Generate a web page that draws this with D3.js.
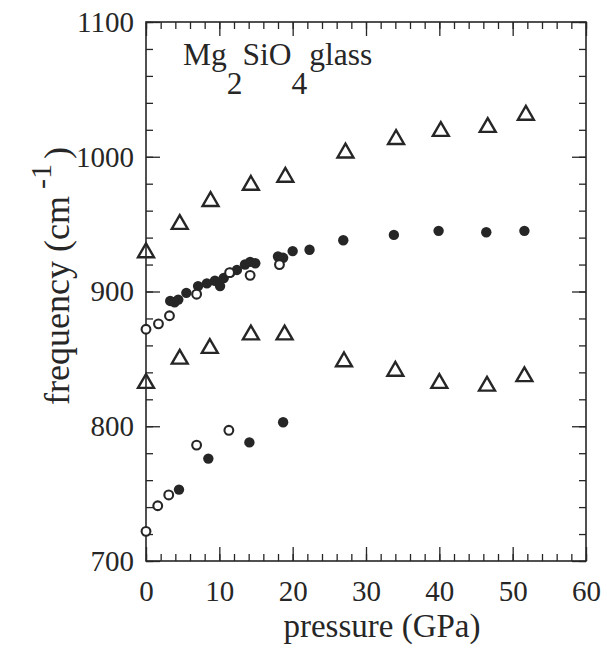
<!DOCTYPE html>
<html><head><meta charset="utf-8">
<style>
svg text, svg tspan, svg g { font-family: "Liberation Serif", "Times New Roman", Tinos, serif !important; }
</style>
<script src="https://cdn.jsdelivr.net/npm/d3@7"></script>
</head><body style="margin:0">
<svg id="c" width="607" height="648" font-family="Liberation Serif"></svg>
<script>
const xTicks=[0,10,20,30,40,50,60];
const yTicks=[700,800,900,1000,1100];
const upperTriP=[0,4.6,8.8,14.3,19,27.2,34.1,40.2,46.6,51.8];
const upperTriF=[930,951,968,980,986,1004,1014,1020,1023,1032];
const lowerTriP=[0,4.6,8.7,14.3,18.9,27,34,40,46.5,51.6];
const lowerTriF=[833,851,859,869,869,849,842,833,831,838];
const midFilledP=[3.3,3.9,4.4,5.5,7.1,8.3,9.4,10.1,10.6,11.5,12.4,13.5,14.2,14.9,18.0,18.7,20.0,22.3,26.9,33.8,39.9,46.4,51.6];
const midFilledF=[893,892,894,899,904,906,908,904,910,914,916,920,922,921,926,925,930,931,938,942,945,944,945];
const midOpenP=[0,1.7,3.2,6.9,11.4,14.2,18.2];
const midOpenF=[872,876,882,898,914,912,920];
const lowOpenP=[0,1.6,3.1,6.9,11.3];
const lowOpenF=[722,741,749,786,797];
const lowFilledP=[4.5,8.5,14.1,18.7];
const lowFilledF=[753,776,788,803];

const ink="#262626";
const FONT="Liberation Serif";
const svg=d3.select("#c");
const L=146,R=586,T=22,B=561;
const x=d3.scaleLinear().domain([0,60]).range([L,R]);
const y=d3.scaleLinear().domain([700,1100]).range([B,T]);
const zip=(a,b)=>a.map((v,i)=>[v,b[i]]);

svg.append("rect").attr("x",L).attr("y",T).attr("width",R-L).attr("height",B-T)
  .attr("fill","none").attr("stroke",ink).attr("stroke-width",1.6);

const xMinor=d3.range(0,61,2), yMinor=d3.range(700,1101,20);
function tickStyle(g){g.select(".domain").remove();g.selectAll("line").attr("stroke",ink).attr("stroke-width",1.3);}
function labStyle(g){g.selectAll("text").attr("font-size",29).attr("fill",ink);}
svg.append("g").attr("transform",`translate(0,${B})`).call(d3.axisBottom(x).tickValues(xMinor).tickSize(-7).tickFormat("")).call(tickStyle);
svg.append("g").attr("transform",`translate(0,${B})`).call(d3.axisBottom(x).tickValues(xTicks).tickSize(-14).tickPadding(19).tickFormat(d3.format("d")))
  .call(tickStyle).call(labStyle);
svg.append("g").attr("transform",`translate(0,${T})`).call(d3.axisTop(x).tickValues(xMinor).tickSize(-7).tickFormat("")).call(tickStyle);
svg.append("g").attr("transform",`translate(0,${T})`).call(d3.axisTop(x).tickValues(xTicks).tickSize(-14).tickFormat("")).call(tickStyle);
svg.append("g").attr("transform",`translate(${L},0)`).call(d3.axisLeft(y).tickValues(yMinor).tickSize(-7).tickFormat("")).call(tickStyle);
svg.append("g").attr("transform",`translate(${L},0)`).call(d3.axisLeft(y).tickValues(yTicks).tickSize(-14).tickPadding(12).tickFormat(d3.format("d")))
  .call(tickStyle).call(labStyle);
svg.append("g").attr("transform",`translate(${R},0)`).call(d3.axisRight(y).tickValues(yMinor).tickSize(-7).tickFormat("")).call(tickStyle);
svg.append("g").attr("transform",`translate(${R},0)`).call(d3.axisRight(y).tickValues(yTicks).tickSize(-14).tickFormat("")).call(tickStyle);

const tri=d3.symbol().type(d3.symbolTriangle).size(110);
function triangles(data){
  svg.append("g").selectAll("path").data(data).join("path")
    .attr("transform",d=>`translate(${x(d[0])},${y(d[1])+1.5})`).attr("d",tri)
    .attr("fill","none").attr("stroke",ink).attr("stroke-width",2.4).attr("stroke-linejoin","miter");
}
function filled(data){
  svg.append("g").selectAll("circle").data(data).join("circle")
    .attr("cx",d=>x(d[0])).attr("cy",d=>y(d[1])).attr("r",5.2).attr("fill",ink);
}
function open(data){
  svg.append("g").selectAll("circle").data(data).join("circle")
    .attr("cx",d=>x(d[0])).attr("cy",d=>y(d[1])).attr("r",4.4).attr("fill","#fff").attr("stroke",ink).attr("stroke-width",2.1);
}
triangles(zip(upperTriP,upperTriF));
triangles(zip(lowerTriP,lowerTriF));
filled(zip(midFilledP,midFilledF));
filled(zip(lowFilledP,lowFilledF));
open(zip(midOpenP,midOpenF));
open(zip(lowOpenP,lowOpenF));

svg.append("text").attr("x",382).attr("y",637).attr("text-anchor","middle").attr("font-size",33).attr("fill",ink).text("pressure (GPa)");
const yl=svg.append("text").attr("transform",`translate(69,276) rotate(-90)`).attr("text-anchor","middle").attr("font-size",36).attr("fill",ink);
yl.append("tspan").text("frequency (cm");
yl.append("tspan").attr("dy",-18).attr("dx",7).attr("font-size",30).text("-1");
yl.append("tspan").attr("dy",18).attr("dx",5).text(")");

const t=svg.append("text").attr("x",183).attr("y",65).attr("font-size",31.5).attr("fill",ink);
t.append("tspan").text("Mg");
t.append("tspan").attr("dy",29).text("2");
t.append("tspan").attr("dy",-29).text("SiO");
t.append("tspan").attr("dy",29).text("4");
t.append("tspan").attr("dy",-29).attr("dx",2).text("glass");

svg.selectAll("g").attr("font-family",FONT);
svg.selectAll("text").attr("font-family",FONT);
</script></body></html>
